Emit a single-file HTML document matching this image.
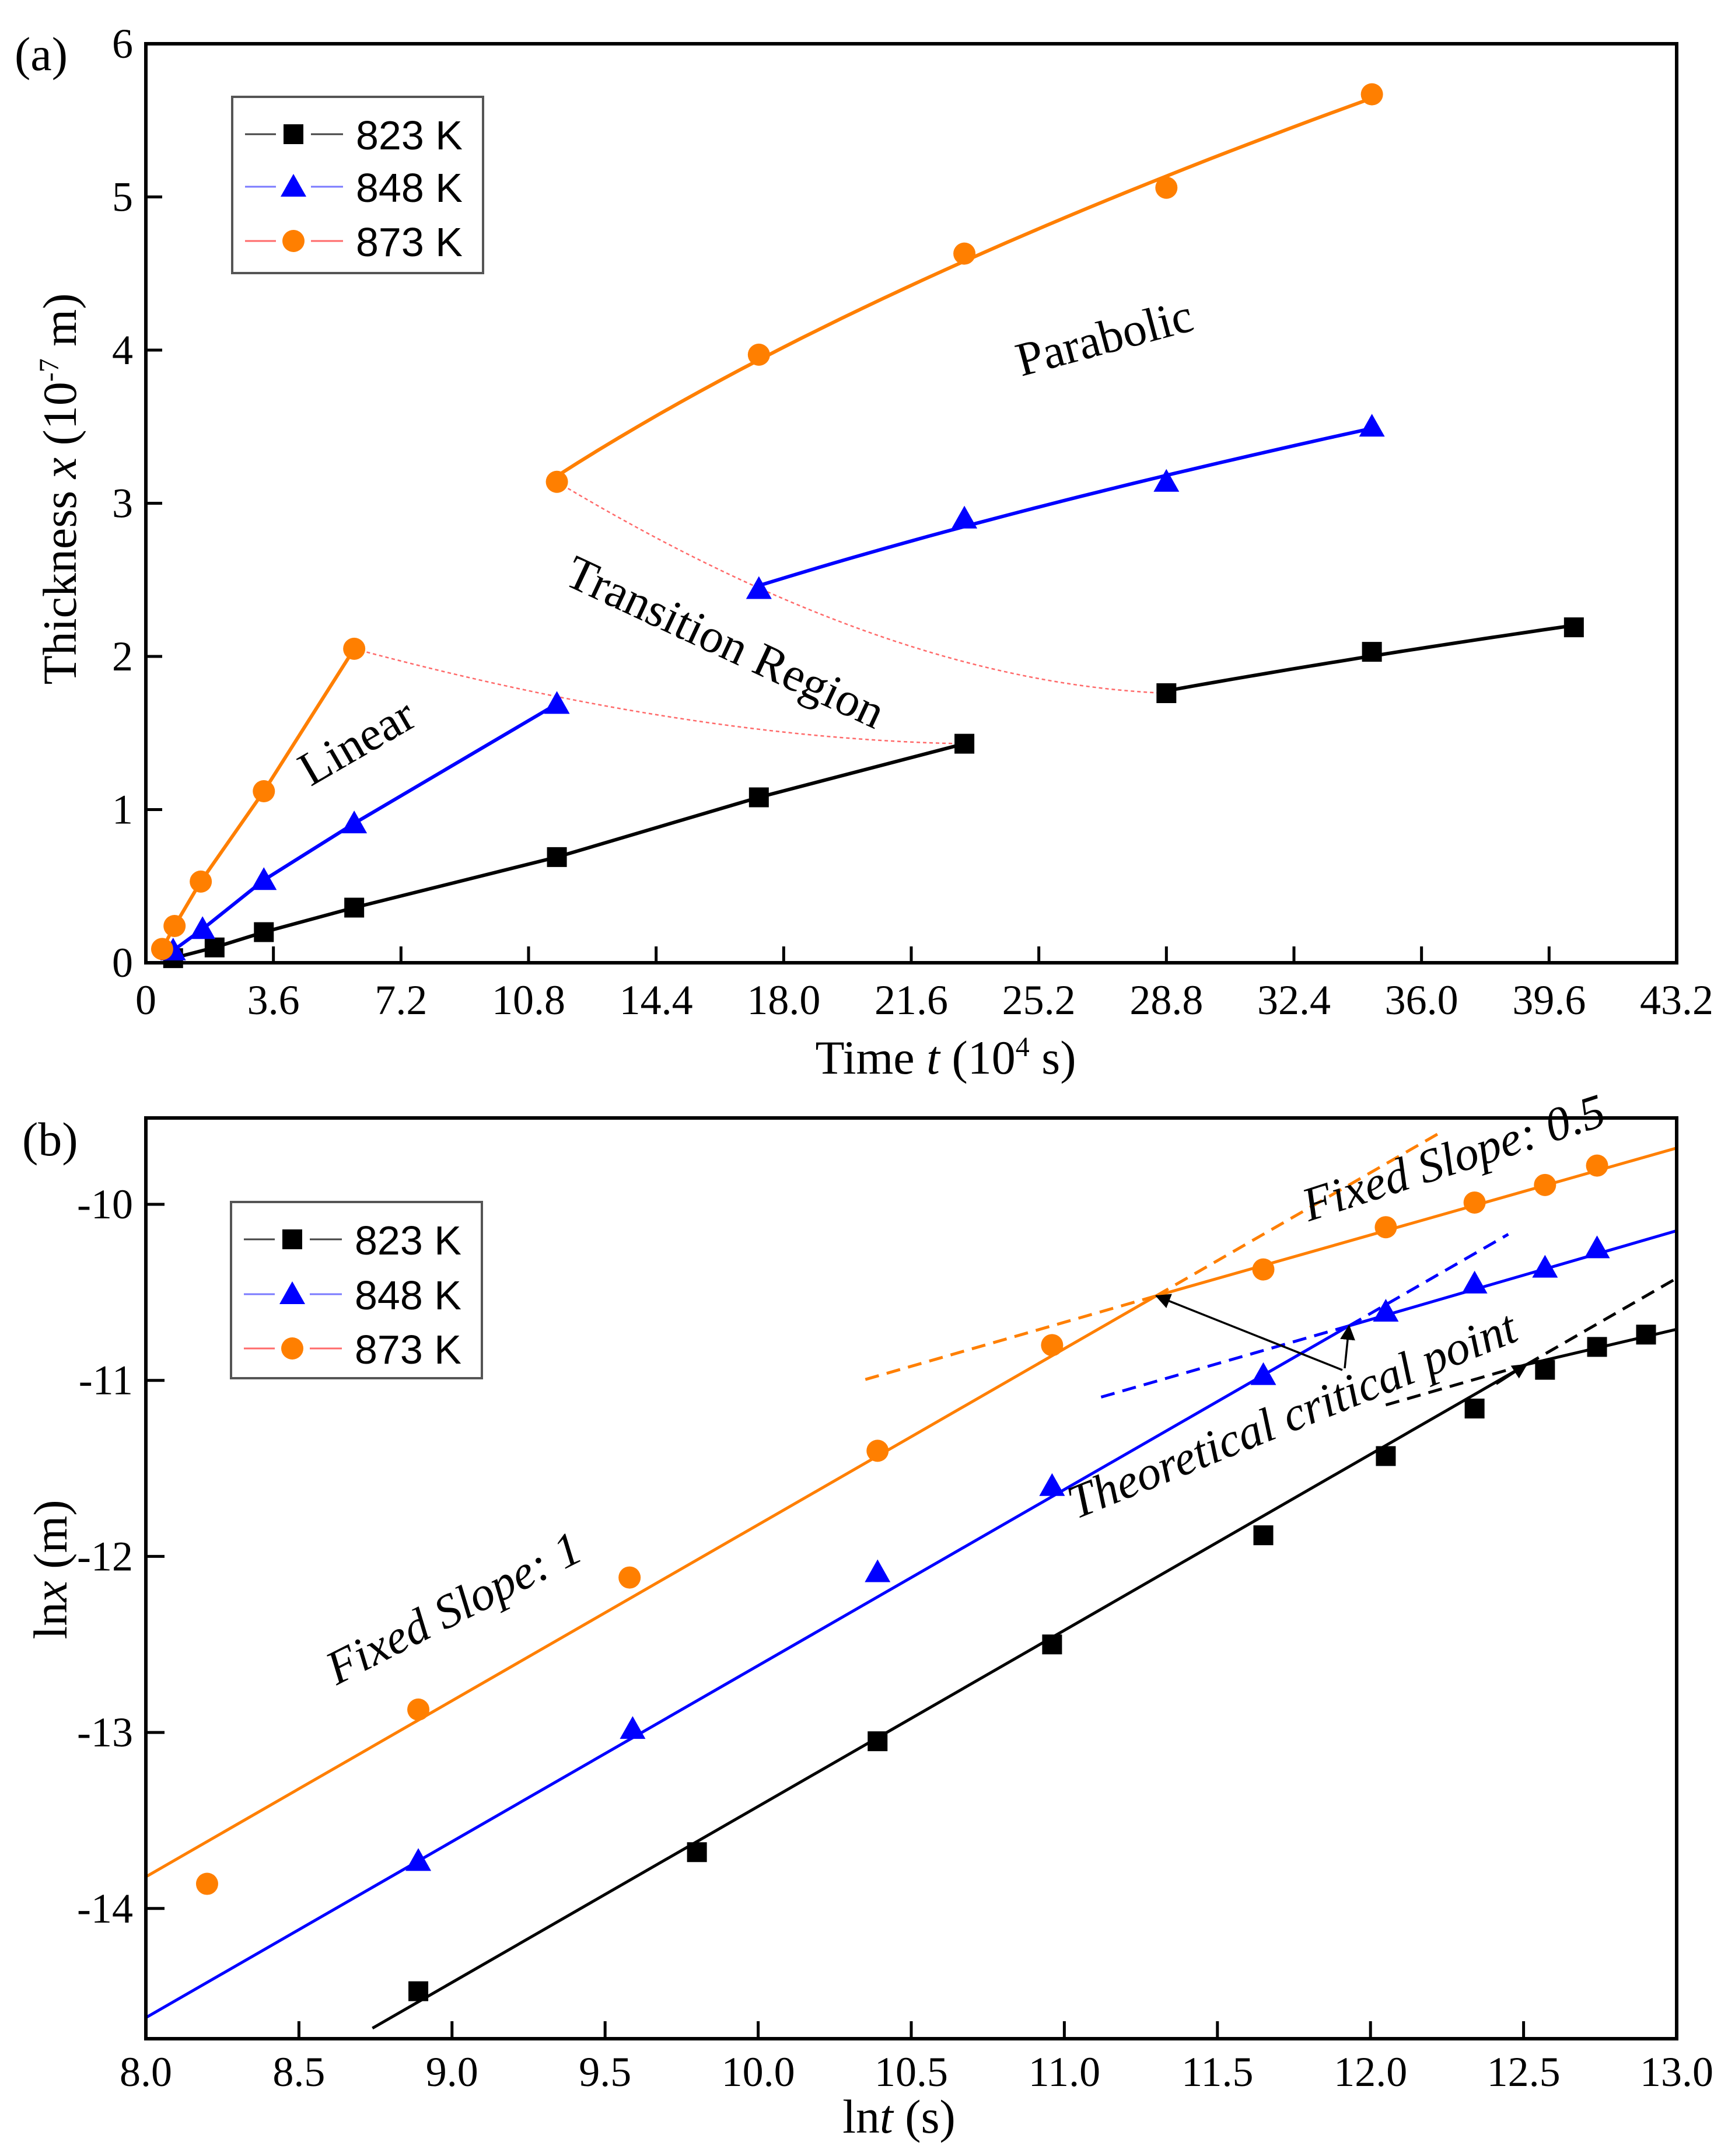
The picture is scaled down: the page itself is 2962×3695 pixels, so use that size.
<!DOCTYPE html>
<html><head><meta charset="utf-8"><style>
html,body{margin:0;padding:0;background:#fff;}
svg{display:block;}
.tk{font-family:"Liberation Serif",serif;font-size:72px;fill:#000;}
.ti{font-family:"Liberation Serif",serif;font-size:82px;fill:#000;}
.lg{font-family:"Liberation Sans",sans-serif;font-size:70px;fill:#000;}
</style></head><body>
<svg id="fig" width="2962" height="3695" viewBox="0 0 2962 3695" xmlns="http://www.w3.org/2000/svg">
<rect width="2962" height="3695" fill="#fff"/>
<text x="25" y="120" class="ti">(a)</text>
<text x="38" y="1980" class="ti">(b)</text>
<text x="1621" y="1840" class="ti" text-anchor="middle">Time <tspan font-style="italic">t</tspan> (10<tspan font-size="48" dy="-30">4</tspan><tspan dy="30"> s)</tspan></text>
<text transform="translate(130,838) rotate(-90)" class="ti" text-anchor="middle">Thickness <tspan font-style="italic">x</tspan> (10<tspan font-size="48" dy="-30">-7</tspan><tspan dy="30"> m)</tspan></text>
<text x="1541" y="3655" class="ti" text-anchor="middle">ln<tspan font-style="italic">t</tspan> (s)</text>
<text transform="translate(114,2690) rotate(-90)" class="ti" text-anchor="middle">ln<tspan font-style="italic">x</tspan> (m)</text>
<g id="pa"></g><g id="pb"></g>
</svg>
<script>
// ---------- Panel (a) data ----------
const aXTicks = [0,3.6,7.2,10.8,14.4,18.0,21.6,25.2,28.8,32.4,36.0,39.6,43.2];
const aXTickLabels = ["0","3.6","7.2","10.8","14.4","18.0","21.6","25.2","28.8","32.4","36.0","39.6","43.2"];
const aYTicks = [0,1,2,3,4,5,6];
const a823T = [0.77,1.94,3.33,5.88,11.6,17.3,23.1,28.8,34.6,40.3];
const a823X = [0.03,0.10,0.20,0.36,0.69,1.08,1.43,1.76,2.03,2.19];
const a848T = [0.77,1.6,3.33,5.88,11.6,17.3,23.1,28.8,34.6];
const a848X = [0.08,0.22,0.54,0.91,1.69,2.44,2.90,3.14,3.50];
const a873T = [0.46,0.81,1.55,3.33,5.88,11.6,17.3,23.1,28.8,34.6];
const a873X = [0.09,0.24,0.53,1.12,2.05,3.14,3.97,4.63,5.06,5.67];
const a823Split = 7, a848Split = 5, a873Split = 5;
// ---------- Panel (b) data ----------
const bXTicks = [8.0,8.5,9.0,9.5,10.0,10.5,11.0,11.5,12.0,12.5,13.0];
const bXTickLabels = ["8.0","8.5","9.0","9.5","10.0","10.5","11.0","11.5","12.0","12.5","13.0"];
const bYTicks = [-10,-11,-12,-13,-14];
const b823T = [8.89,9.80,10.39,10.96,11.65,12.05,12.34,12.57,12.74,12.90];
const b823X = [-14.47,-13.68,-13.05,-12.50,-11.88,-11.43,-11.16,-10.94,-10.81,-10.74];
const b848T = [8.89,9.59,10.39,10.96,11.65,12.05,12.34,12.57,12.74];
const b848X = [-13.73,-12.98,-12.09,-11.60,-10.97,-10.61,-10.45,-10.36,-10.25];
const b873T = [8.20,8.89,9.58,10.39,10.96,11.65,12.05,12.34,12.57,12.74];
const b873X = [-13.86,-12.87,-12.12,-11.40,-10.80,-10.37,-10.13,-9.99,-9.89,-9.78];
const bCritT = [12.51,11.93,11.30];
const bCritX = [-10.91,-10.69,-10.52];
const bFitStartT = [8.74,8.0,8.0];
const bFitEndX = [-10.71,-10.15,-9.68];

const NS="http://www.w3.org/2000/svg";
function mk(parent,tag,attrs){const e=document.createElementNS(NS,tag);for(const k in attrs)e.setAttribute(k,attrs[k]);parent.appendChild(e);return e;}

const ORANGE="#ff7f00", BLUE="#0000ff", BLACK="#000";
const aL=250,aR=2874,aT=75,aB=1650;
const ax=v=>aL+(v-0)/(43.2)*(aR-aL), ay=v=>aB-(v/6)*(aB-aT);
const bL=250,bR=2874,bT=1916,bB=3494;
const bx=v=>bL+(v-8)/5*(bR-bL);
const bPU=301.7; const by=v=>2064-(v+10)*bPU;

function marker(g,type,x,y,color,name){
  let e;
  if(type==='sq'){e=mk(g,'rect',{x:x-17,y:y-17,width:34,height:34,fill:color});}
  else if(type==='tri'){e=mk(g,'polygon',{points:`${x},${y-22} ${x-22},${y+17} ${x+22},${y+17}`,fill:color});}
  else {e=mk(g,'circle',{cx:x,cy:y,r:19,fill:color});}
  
  
}
function frame(g,L,T,R,B,name){
  const r=mk(g,'rect',{x:L,y:T,width:R-L,height:B-T,fill:'none',stroke:'#000','stroke-width':6});
  
  
}
function legend(g,x0,y0,rows,name){
  const box=mk(g,'rect',{x:x0,y:y0,width:430,height:302,fill:'#fff',stroke:'#555','stroke-width':4});
  
  
  const labs=["823 K","848 K","873 K"],cols=[BLACK,BLUE,ORANGE],lc=["#444","#7a7aff","#ff6a6a"],mt=['sq','tri','ci'];
  rows.forEach((ry,i)=>{
    const ln=mk(g,'line',{x1:x0+22,y1:ry,x2:x0+190,y2:ry,stroke:lc[i],'stroke-width':3});
    
    
    mk(g,'rect',{x:x0+75,y:ry-15,width:60,height:30,fill:'#fff'});
    marker(g,mt[i],x0+105,ry,cols[i],'legend-marker');
    const t=mk(g,'text',{x:x0+212,y:ry+26,class:'lg'});t.textContent=labs[i];
    
    
  });
}
function path(g,pts,color,w,dash,name){
  const d=pts.map((p,i)=>(i?'L':'M')+p[0].toFixed(1)+','+p[1].toFixed(1)).join(' ');
  const e=mk(g,'path',{d:d,fill:'none',stroke:color,'stroke-width':w});
  if(dash)e.setAttribute('stroke-dasharray',dash);
  
  
  return e;
}
function ann(g,text,cx,cy,rot,name){
  const t=mk(g,'text',{transform:`translate(${cx},${cy}) rotate(${rot})`,'text-anchor':'middle',class:'ti'});
  t.textContent=text;
  
  
  return t;
}
function parabFit(T,X){
  const n=T.length;let st=0,sy=0,stt=0,sty=0;
  for(let i=0;i<n;i++){const y=X[i]*X[i];st+=T[i];sy+=y;stt+=T[i]*T[i];sty+=T[i]*y;}
  const a=(n*sty-st*sy)/(n*stt-st*st),b=(sy-a*st)/n;
  const pts=[];for(let k=0;k<=40;k++){const t=T[0]+(T[n-1]-T[0])*k/40;pts.push([ax(t),ay(Math.sqrt(Math.max(0,a*t+b)))]);}
  return pts;
}

// ---------- Panel a ----------
const ga=document.getElementById('pa');
aXTicks.forEach((v,i)=>{
  const tk=mk(ga,'line',{x1:ax(v),y1:aB,x2:ax(v),y2:aB-28,stroke:'#000','stroke-width':5});
  
  
  const t=mk(ga,'text',{x:ax(v),y:1738,'text-anchor':'middle',class:'tk'});t.textContent=aXTickLabels[i];
  
  
});
aYTicks.forEach(v=>{
  const tk=mk(ga,'line',{x1:aL,y1:ay(v),x2:aL+28,y2:ay(v),stroke:'#000','stroke-width':5});
  
  
  const t=mk(ga,'text',{x:228,y:ay(v)+24,'text-anchor':'end',class:'tk'});t.textContent=String(v);
  
  
});
function transCurve(t1,x1,t2,x2){
  const p0=[ax(t1),ay(x1)],p2=[ax(t2),ay(x2)];
  const c=[ax(t1+(t2-t1)*0.55),ay(x2+ (x1-x2)*0.05)];
  const e=mk(ga,'path',{d:`M${p0[0]},${p0[1]} Q${c[0]},${c[1]} ${p2[0]},${p2[1]}`,fill:'none',stroke:'#ff6a6a','stroke-width':2.5,'stroke-dasharray':'6,5'});
  
  
}
transCurve(a873T[a873Split-1],a873X[a873Split-1],a823T[a823Split-1],a823X[a823Split-1]);
transCurve(a873T[a873Split],a873X[a873Split],a823T[a823Split],a823X[a823Split]);
const seriesA=[[a823T,a823X,a823Split,BLACK,'sq','823k'],[a848T,a848X,a848Split,BLUE,'tri','848k'],[a873T,a873X,a873Split,ORANGE,'ci','873k']];
seriesA.forEach(([T,X,s,c,m,n])=>{
  const lt=T.slice(0,s),lx=X.slice(0,s);
  path(ga,lt.map((t,i)=>[ax(t),ay(lx[i])]),c,6,null,'linear-line-'+n);
  path(ga,parabFit(T.slice(s),X.slice(s)),c,6,null,'parabolic-line-'+n);
  T.forEach((t,i)=>marker(ga,m,ax(t),ay(X[i]),c,'point-'+n));
});
frame(ga,aL,aT,aR,aB,'plot-frame-a');
legend(ga,398,166,[230,320,413],'legend-a');
ann(ga,'Parabolic',1900,605,-15,'parabolic-label');
ann(ga,'Transition Region',1232,1125,25,'transition-label');
ann(ga,'Linear',625,1295,-30,'linear-label');

// ---------- Panel b ----------
const gb=document.getElementById('pb');
const defs=mk(gb,'defs',{});
const mkr=mk(defs,'marker',{id:'ah',markerWidth:26,markerHeight:26,refX:24,refY:13,orient:'auto',markerUnits:'userSpaceOnUse'});
mk(mkr,'path',{d:'M0,0 L10,5 L0,10 z',fill:'#000',transform:'scale(2.6)'});
bXTicks.forEach((v,i)=>{
  const tk=mk(gb,'line',{x1:bx(v),y1:bB,x2:bx(v),y2:bB-30,stroke:'#000','stroke-width':5});
  
  
  const t=mk(gb,'text',{x:bx(v),y:3575,'text-anchor':'middle',class:'tk'});t.textContent=bXTickLabels[i];
  
  
});
bYTicks.forEach(v=>{
  const tk=mk(gb,'line',{x1:bL,y1:by(v),x2:bL+32,y2:by(v),stroke:'#000','stroke-width':5});
  
  
  const t=mk(gb,'text',{x:228,y:by(v)+24,'text-anchor':'end',class:'tk'});t.textContent=String(v);
  
  
});
const bClip=mk(defs,'clipPath',{id:'bclip'});mk(bClip,'rect',{x:bL,y:bT,width:bR-bL,height:bB-bT});
const gbc=mk(gb,'g',{'clip-path':'url(#bclip)'});
const seriesB=[[b823T,b823X,BLACK,'sq','823k'],[b848T,b848X,BLUE,'tri','848k'],[b873T,b873X,ORANGE,'ci','873k']];
const dashStart1T=[12.05,11.12,10.35], dashEnd1T=[13.0,12.45,12.24];
seriesB.forEach(([T,X,c,m,n],i)=>{
  const ct=bCritT[i],cx=bCritX[i];
  const st=bFitStartT[i],sx=cx-(ct-st);
  path(gbc,[[bx(st),by(sx)],[bx(ct),by(cx)],[bx(13),by(bFitEndX[i])]],c,5,null,'fit-line-'+n);
  path(gbc,[[bx(ct),by(cx)],[bx(dashEnd1T[i]),by(cx+(dashEnd1T[i]-ct))]],c,5,'24,14','slope1-extension-'+n);
  path(gbc,[[bx(dashStart1T[i]),by(cx-0.5*(ct-dashStart1T[i]))],[bx(ct),by(cx)]],c,5,'24,14','slope05-extension-'+n);
  T.forEach((t,j)=>marker(gbc,m,bx(t),by(X[j]),c,'point-'+n));
});
const arrowTails=[[2565,2372],[2305,2345],[2301,2348]];
arrowTails.forEach((tl,i)=>{
  const a=mk(gb,'line',{x1:tl[0],y1:tl[1],x2:bx(bCritT[i]),y2:by(bCritX[i]),stroke:'#000','stroke-width':3.5,'marker-end':'url(#ah)'});
  
  
});
frame(gb,bL,bT,bR,bB,'plot-frame-b');
legend(gb,396,2060,[2124,2218,2311],'legend-b');
const t1=ann(gb,'Fixed Slope: 1',790,2780,-27,'fixed-slope-1-label');t1.setAttribute('font-style','italic');
const t2=ann(gb,'Fixed Slope: 0.5',2500,2010,-18,'fixed-slope-05-label');t2.setAttribute('font-style','italic');
const t3=ann(gb,'Theoretical critical point',2225,2450,-22,'critical-point-label');t3.setAttribute('font-style','italic');
</script>
</body></html>
